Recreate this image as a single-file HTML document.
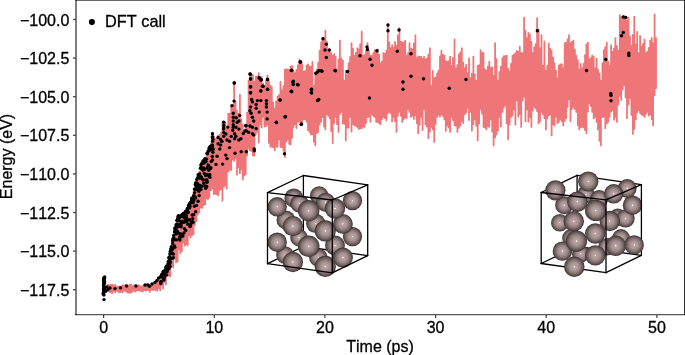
<!DOCTYPE html>
<html><head><meta charset="utf-8"><title>Energy vs time</title>
<style>
html,body{margin:0;padding:0;background:#fff;}
body{width:685px;height:355px;overflow:hidden;}
svg{display:block;will-change:transform;}
text{font-family:"Liberation Sans",Arial,Helvetica,sans-serif;font-size:16px;fill:#000;stroke:#000;stroke-width:0.3px;font-kerning:none;}
</style></head><body>
<svg width="685" height="355" viewBox="0 0 685 355">
<defs>
<radialGradient id="al" cx="50%" cy="50%" r="50%">
<stop offset="0" stop-color="#ffffff"/><stop offset="0.04" stop-color="#fff"/><stop offset="0.09" stop-color="#bba5a5"/>
<stop offset="0.4" stop-color="#a89494"/><stop offset="0.65" stop-color="#877575"/><stop offset="0.85" stop-color="#615252"/><stop offset="1" stop-color="#3a3030"/>
</radialGradient>
</defs>
<rect width="685" height="355" fill="#fff"/>
<path d="M103.6 285.8V291.6M105.0 286.8V291.9M106.5 286.2V291.3M107.9 284.9V291.0M109.4 284.8V291.5M110.8 284.8V292.6M112.3 284.6V292.9M113.8 285.6V290.8M115.2 285.0V292.2M116.6 286.6V290.7M118.1 286.4V291.5M119.5 286.9V292.3M121.0 286.9V291.8M122.4 285.2V292.3M123.9 285.5V290.7M125.3 285.2V290.9M126.8 286.5V291.8M128.2 286.0V292.7M129.7 284.6V292.9M131.2 284.7V292.3M132.6 286.5V291.5M134.0 285.2V290.7M135.5 285.6V291.6M136.9 286.5V290.3M138.4 285.1V290.4M139.8 285.9V290.1M141.3 286.3V291.2M142.8 286.2V291.6M144.2 285.1V290.0M145.6 284.3V290.6M147.1 284.0V290.0M148.5 285.7V290.2M150.0 285.6V291.9M151.4 283.8V289.7M152.9 284.3V289.9M154.3 283.3V289.3M155.8 283.8V290.0M157.2 282.5V290.8M158.7 280.1V288.0M160.1 279.2V290.4M161.6 276.3V285.4M163.0 272.2V288.4M164.5 269.8V282.4M165.9 268.4V284.4M167.4 263.8V275.4M168.8 258.4V275.8M170.3 250.3V276.4M171.8 246.8V265.4M173.2 236.4V267.4M174.6 229.4V258.4M176.1 224.1V262.4M177.6 218.8V261.4M179.0 217.4V249.4M180.4 221.5V253.4M181.9 219.5V251.0M183.3 214.1V242.4M184.8 213.1V245.7M186.2 209.7V244.0M187.7 207.2V245.4M189.1 205.5V235.4M190.6 203.8V237.4M192.1 196.9V235.0M193.5 192.1V234.4M194.9 188.1V225.1M196.4 188.3V221.2M197.8 178.8V214.4M199.3 171.7V212.7M200.8 163.7V207.4M202.2 170.3V207.9M203.6 165.7V205.4M205.1 159.3V204.4M206.6 155.8V198.4M208.0 150.5V199.0M209.4 146.8V197.4M210.9 143.8V190.4M212.3 132.6V188.4M213.8 136.4V194.0M215.2 138.6V193.9M216.7 138.1V194.0M218.1 135.6V195.4M219.6 134.8V190.5M221.1 132.6V189.4M222.5 122.4V200.7M223.9 122.6V186.9M225.4 122.4V185.4M226.8 128.6V188.7M228.3 113.6V171.4M229.8 113.6V169.9M231.2 105.1V169.9M232.6 108.6V159.4M234.1 82.4V160.8M235.5 101.6V158.4M237.0 110.6V174.8M238.4 113.6V167.4M239.9 94.7V173.4M241.3 119.1V169.4M242.8 124.6V179.4M244.2 131.0V175.4M245.7 126.6V174.2M247.1 112.6V155.4M248.6 80.6V148.4M250.0 73.2V150.4M251.5 74.9V150.9M252.9 75.1V155.6M254.4 81.6V155.6M255.8 76.6V134.4M257.3 76.3V131.5M258.8 73.1V142.5M260.2 77.3V124.4M261.6 76.6V127.5M263.1 83.6V116.9M264.5 87.1V126.6M266.0 80.6V126.2M267.4 75.4V124.4M268.9 80.6V142.8M270.4 85.3V146.9M271.8 87.1V146.1M273.2 102.6V147.4M274.7 108.6V150.4M276.1 101.3V146.6M277.6 96.6V146.8M279.0 95.0V139.4M280.5 81.8V146.9M281.9 90.4V147.2M283.4 86.2V150.6M284.9 69.6V156.9M286.3 69.2V141.5M287.8 69.6V139.4M289.2 69.6V143.8M290.6 66.6V144.4M292.1 65.9V137.8M293.5 71.0V126.9M295.0 73.1V124.4M296.4 69.8V128.0M297.9 65.1V121.9M299.4 59.4V121.6M300.8 60.6V124.4M302.2 64.1V123.0M303.7 71.6V119.1M305.1 71.1V119.4M306.6 65.3V121.6M308.0 64.4V130.1M309.5 66.3V131.9M310.9 66.6V134.4M312.4 62.0V134.4M313.9 85.6V141.8M315.3 73.1V145.4M316.8 69.7V133.1M318.2 62.6V131.9M319.6 50.6V124.4M321.1 42.4V121.7M322.5 38.1V116.9M324.0 37.9V126.5M325.4 30.6V129.4M326.9 42.0V114.4M328.4 50.6V115.9M329.8 51.9V118.4M331.2 52.8V131.1M332.7 55.6V143.2M334.1 54.2V123.1M335.6 56.6V116.9M337.0 69.4V124.0M338.5 59.5V131.9M339.9 40.6V114.1M341.4 58.4V111.9M342.9 60.6V123.4M344.3 80.6V123.8M345.8 70.8V140.4M347.2 75.4V127.7M348.6 63.1V127.7M350.1 56.9V116.9M351.5 43.1V131.6M353.0 48.7V123.9M354.4 55.6V125.4M355.9 52.7V125.8M357.4 48.1V126.9M358.8 49.4V129.0M360.2 44.1V128.2M361.7 31.6V128.2M363.1 55.6V126.5M364.6 55.1V126.9M366.0 51.0V123.1M367.5 43.1V117.1M368.9 51.0V116.9M370.4 55.6V121.8M371.9 55.8V114.4M373.3 53.1V115.8M374.8 50.0V116.9M376.2 51.5V121.9M377.6 49.4V121.9M379.1 54.8V123.0M380.5 63.1V124.4M382.0 61.3V119.0M383.4 53.1V116.9M384.9 53.6V118.0M386.4 50.6V120.4M387.8 24.4V113.6M389.2 42.5V111.9M390.7 48.1V113.4M392.1 45.2V121.4M393.6 47.8V116.9M395.0 41.9V121.3M396.5 45.6V131.9M397.9 35.4V115.8M399.4 28.1V111.9M400.9 41.6V115.9M402.3 42.7V121.9M403.8 42.4V119.0M405.2 40.6V117.4M406.6 55.6V118.2M408.1 53.2V109.4M409.5 43.1V111.9M411.0 48.4V116.9M412.4 49.4V115.6M413.9 43.3V119.0M415.4 35.1V115.4M416.8 58.1V123.1M418.2 56.4V133.2M419.7 57.0V124.9M421.1 56.6V116.9M422.6 58.8V130.1M424.0 56.6V109.4M425.5 59.4V124.4M426.9 58.4V126.6M428.4 54.7V138.2M429.9 48.1V131.7M431.3 85.6V126.9M432.8 70.9V129.3M434.2 78.1V141.9M435.6 77.5V123.9M437.1 73.3V116.9M438.5 70.6V114.6M440.0 56.3V116.8M441.4 50.6V114.4M442.9 54.6V115.9M444.4 55.6V119.4M445.8 61.0V130.9M447.2 61.6V125.4M448.7 61.1V127.5M450.1 56.6V131.9M451.6 65.6V116.9M453.0 57.8V120.1M454.5 39.4V125.4M455.9 68.1V125.7M457.4 65.1V131.9M458.9 54.4V127.8M460.3 52.5V125.4M461.8 48.1V121.2M463.2 62.4V123.0M464.6 68.1V114.4M466.1 65.0V112.6M467.5 73.1V108.2M469.0 58.5V120.1M470.4 78.1V111.9M471.9 73.6V130.7M473.4 56.6V124.0M474.8 74.3V119.4M476.2 80.6V125.8M477.7 65.6V140.4M479.1 65.2V123.4M480.6 50.1V109.4M482.0 52.6V113.5M483.5 53.1V126.9M484.9 69.2V127.6M486.4 70.6V129.4M487.9 66.7V126.1M489.3 61.6V126.9M490.8 67.8V119.4M492.2 67.4V131.5M493.6 75.6V145.4M495.1 43.1V137.5M496.5 59.1V134.4M498.0 80.6V130.5M499.4 72.0V116.9M500.9 66.6V126.6M502.4 58.1V111.9M503.8 56.1V107.5M505.2 56.1V105.4M506.7 55.6V123.3M508.1 68.7V139.4M509.6 71.6V124.7M511.0 63.7V116.9M512.5 55.6V115.4M513.9 54.6V109.4M515.4 53.1V124.7M516.9 50.9V100.4M518.3 51.8V116.6M519.8 46.6V114.2M521.2 52.8V126.9M522.6 53.1V100.5M524.1 17.6V96.9M525.5 30.8V121.4M527.0 38.1V109.4M528.4 33.0V121.7M529.9 34.4V117.0M531.4 42.0V126.9M532.8 53.1V110.5M534.2 47.5V106.9M535.7 44.1V108.4M537.1 18.1V111.3M538.6 29.5V123.4M540.0 48.1V121.6M541.5 35.2V111.9M542.9 65.6V114.2M544.4 41.5V118.1M545.9 70.6V129.4M547.3 65.7V118.5M548.8 43.6V115.4M550.2 48.7V114.4M551.6 50.6V135.4M553.1 57.4V124.3M554.5 63.1V125.5M556.0 70.4V116.9M557.4 78.1V123.2M558.9 65.4V121.9M560.4 64.4V119.4M561.8 64.2V121.2M563.2 68.1V125.4M564.7 43.1V120.9M566.1 42.7V118.2M567.6 39.5V107.1M569.0 35.1V99.4M570.5 43.1V121.3M571.9 41.8V109.3M573.4 40.6V106.9M574.9 49.7V108.8M576.3 55.6V111.9M577.8 60.2V125.1M579.2 69.4V129.4M580.6 63.9V127.3M582.1 68.1V126.9M583.5 63.9V127.4M585.0 55.1V130.1M586.4 44.4V133.2M587.9 42.6V111.5M589.4 59.4V103.2M590.8 58.2V106.0M592.2 55.6V111.9M593.7 56.9V118.5M595.1 68.1V116.9M596.6 58.7V122.1M598.0 69.7V129.4M599.5 73.1V140.9M600.9 80.6V145.4M602.4 63.1V116.9M603.9 50.2V116.7M605.3 47.1V128.2M606.8 42.6V123.5M608.2 61.7V121.7M609.6 65.6V116.9M611.1 45.2V111.7M612.5 51.6V110.4M614.0 48.5V119.8M615.4 38.1V116.9M616.9 45.9V121.9M618.4 50.6V104.4M619.8 15.1V95.7M621.2 17.1V100.1M622.7 16.4V89.4M624.1 16.1V85.4M625.6 20.0V97.4M627.0 20.6V118.2M628.5 17.6V104.7M630.0 36.3V98.2M631.4 45.6V114.8M632.9 34.8V133.9M634.3 16.6V128.8M635.8 44.4V119.4M637.2 31.8V112.3M638.6 53.1V110.4M640.1 35.9V113.0M641.5 46.6V114.4M643.0 43.8V115.3M644.5 39.4V116.9M645.9 53.1V113.8M647.4 51.6V111.9M648.8 48.0V115.5M650.2 40.6V114.4M651.7 37.9V119.0M653.1 43.1V125.4M654.6 14.4V95.4M656.0 38.1V88.2" fill="none" stroke="#ee7678" stroke-width="1.8" stroke-linecap="round"/>
<g fill="#000"><circle cx="234.5" cy="83.0" r="1.7"/><circle cx="250.5" cy="74.3" r="1.7"/><circle cx="250.5" cy="78.8" r="1.7"/><circle cx="250.5" cy="87.0" r="1.7"/><circle cx="250.5" cy="92.5" r="1.7"/><circle cx="259.5" cy="78.3" r="1.7"/><circle cx="260.8" cy="80.0" r="1.7"/><circle cx="262.5" cy="86.3" r="1.7"/><circle cx="260.8" cy="90.8" r="1.7"/><circle cx="267.5" cy="79.5" r="1.7"/><circle cx="267.5" cy="89.5" r="1.7"/><circle cx="291.3" cy="70.5" r="1.7"/><circle cx="293.3" cy="81.3" r="1.7"/><circle cx="293.3" cy="84.5" r="1.7"/><circle cx="297.5" cy="84.5" r="1.7"/><circle cx="291.3" cy="91.3" r="1.7"/><circle cx="311.3" cy="89.5" r="1.7"/><circle cx="311.3" cy="92.5" r="1.7"/><circle cx="300.0" cy="62.0" r="1.7"/><circle cx="315.8" cy="73.3" r="1.7"/><circle cx="318.8" cy="70.8" r="1.7"/><circle cx="322.0" cy="71.3" r="1.7"/><circle cx="323.0" cy="38.8" r="1.7"/><circle cx="326.3" cy="44.3" r="1.7"/><circle cx="325.0" cy="50.0" r="1.7"/><circle cx="329.3" cy="50.0" r="1.7"/><circle cx="326.3" cy="57.5" r="1.7"/><circle cx="335.0" cy="70.5" r="1.7"/><circle cx="347.5" cy="71.8" r="1.7"/><circle cx="360.0" cy="55.8" r="1.7"/><circle cx="367.0" cy="47.0" r="1.7"/><circle cx="367.5" cy="49.5" r="1.7"/><circle cx="377.0" cy="50.8" r="1.7"/><circle cx="370.0" cy="59.3" r="1.7"/><circle cx="372.0" cy="65.3" r="1.7"/><circle cx="388.0" cy="25.0" r="1.7"/><circle cx="388.0" cy="30.8" r="1.7"/><circle cx="399.0" cy="30.0" r="1.7"/><circle cx="397.3" cy="51.3" r="1.7"/><circle cx="411.0" cy="53.8" r="1.7"/><circle cx="411.0" cy="76.3" r="1.7"/><circle cx="403.0" cy="82.0" r="1.7"/><circle cx="403.0" cy="89.3" r="1.7"/><circle cx="423.5" cy="78.8" r="1.7"/><circle cx="466.0" cy="79.5" r="1.7"/><circle cx="449.3" cy="88.3" r="1.7"/><circle cx="537.3" cy="30.8" r="1.7"/><circle cx="280.0" cy="100.0" r="1.7"/><circle cx="317.5" cy="100.5" r="1.7"/><circle cx="318.8" cy="99.5" r="1.7"/><circle cx="301.3" cy="124.3" r="1.7"/><circle cx="285.0" cy="117.0" r="1.7"/><circle cx="276.3" cy="122.5" r="1.7"/><circle cx="284.5" cy="153.8" r="1.7"/><circle cx="369.5" cy="98.0" r="1.7"/><circle cx="254.3" cy="150.8" r="1.7"/><circle cx="246.3" cy="151.8" r="1.7"/><circle cx="235.0" cy="153.3" r="1.7"/><circle cx="586.5" cy="70.5" r="1.7"/><circle cx="605.8" cy="59.5" r="1.7"/><circle cx="623.3" cy="17.0" r="1.7"/><circle cx="625.8" cy="17.5" r="1.7"/><circle cx="623.3" cy="32.5" r="1.7"/><circle cx="621.5" cy="35.8" r="1.7"/><circle cx="628.8" cy="53.3" r="1.7"/><circle cx="628.8" cy="55.5" r="1.7"/><circle cx="610.8" cy="93.5" r="1.7"/><circle cx="611.0" cy="95.5" r="1.7"/><circle cx="611.0" cy="100.8" r="1.7"/><circle cx="212.5" cy="133.7" r="1.7"/><circle cx="212.5" cy="137.5" r="1.7"/><circle cx="212.5" cy="141.3" r="1.7"/><circle cx="212.5" cy="145.1" r="1.7"/><circle cx="212.5" cy="147.6" r="1.7"/><circle cx="218.1" cy="137.5" r="1.7"/><circle cx="218.1" cy="143.8" r="1.7"/><circle cx="220.6" cy="145.1" r="1.7"/><circle cx="221.9" cy="141.3" r="1.7"/><circle cx="223.7" cy="122.2" r="1.7"/><circle cx="223.7" cy="125.5" r="1.7"/><circle cx="223.7" cy="128.1" r="1.7"/><circle cx="223.7" cy="132.4" r="1.7"/><circle cx="223.7" cy="136.2" r="1.7"/><circle cx="227.0" cy="140.0" r="1.7"/><circle cx="229.5" cy="141.3" r="1.7"/><circle cx="229.5" cy="147.6" r="1.7"/><circle cx="232.1" cy="105.7" r="1.7"/><circle cx="234.1" cy="82.9" r="1.7"/><circle cx="234.1" cy="101.1" r="1.7"/><circle cx="233.3" cy="113.3" r="1.7"/><circle cx="233.3" cy="117.2" r="1.7"/><circle cx="233.3" cy="121.0" r="1.7"/><circle cx="233.3" cy="124.8" r="1.7"/><circle cx="233.3" cy="127.3" r="1.7"/><circle cx="235.9" cy="127.3" r="1.7"/><circle cx="237.2" cy="122.2" r="1.7"/><circle cx="238.9" cy="121.0" r="1.7"/><circle cx="239.7" cy="115.4" r="1.7"/><circle cx="234.6" cy="133.7" r="1.7"/><circle cx="235.9" cy="136.2" r="1.7"/><circle cx="234.6" cy="138.7" r="1.7"/><circle cx="249.9" cy="74.0" r="1.7"/><circle cx="250.6" cy="79.1" r="1.7"/><circle cx="250.6" cy="86.7" r="1.7"/><circle cx="250.6" cy="93.0" r="1.7"/><circle cx="251.6" cy="99.4" r="1.7"/><circle cx="252.4" cy="101.9" r="1.7"/><circle cx="250.6" cy="107.0" r="1.7"/><circle cx="249.9" cy="110.8" r="1.7"/><circle cx="251.1" cy="113.3" r="1.7"/><circle cx="252.4" cy="117.2" r="1.7"/><circle cx="253.7" cy="121.0" r="1.7"/><circle cx="249.9" cy="126.0" r="1.7"/><circle cx="252.4" cy="127.3" r="1.7"/><circle cx="248.6" cy="132.4" r="1.7"/><circle cx="252.4" cy="133.7" r="1.7"/><circle cx="253.7" cy="134.9" r="1.7"/><circle cx="256.2" cy="128.6" r="1.7"/><circle cx="254.2" cy="148.9" r="1.7"/><circle cx="256.2" cy="104.5" r="1.7"/><circle cx="256.2" cy="108.3" r="1.7"/><circle cx="257.5" cy="100.6" r="1.7"/><circle cx="259.2" cy="77.8" r="1.7"/><circle cx="261.3" cy="79.8" r="1.7"/><circle cx="263.3" cy="86.2" r="1.7"/><circle cx="260.8" cy="91.0" r="1.7"/><circle cx="267.6" cy="79.1" r="1.7"/><circle cx="267.6" cy="89.2" r="1.7"/><circle cx="260.8" cy="100.6" r="1.7"/><circle cx="259.2" cy="112.1" r="1.7"/><circle cx="266.4" cy="100.6" r="1.7"/><circle cx="266.4" cy="103.7" r="1.7"/><circle cx="266.4" cy="107.0" r="1.7"/><circle cx="267.1" cy="112.1" r="1.7"/><circle cx="267.1" cy="118.9" r="1.7"/><circle cx="280.3" cy="100.1" r="1.7"/><circle cx="276.5" cy="122.2" r="1.7"/><circle cx="285.4" cy="116.4" r="1.7"/><circle cx="291.8" cy="70.2" r="1.7"/><circle cx="293.0" cy="82.4" r="1.7"/><circle cx="298.1" cy="84.9" r="1.7"/><circle cx="291.8" cy="91.8" r="1.7"/><circle cx="300.7" cy="62.0" r="1.7"/><circle cx="301.4" cy="124.3" r="1.7"/><circle cx="311.6" cy="89.2" r="1.7"/><circle cx="311.6" cy="93.0" r="1.7"/><circle cx="317.2" cy="72.2" r="1.7"/><circle cx="321.0" cy="70.7" r="1.7"/><circle cx="318.4" cy="100.1" r="1.7"/><circle cx="335.4" cy="70.7" r="1.7"/><circle cx="347.6" cy="71.4" r="1.7"/><circle cx="104.7" cy="277.0" r="1.7"/><circle cx="103.7" cy="277.9" r="1.7"/><circle cx="104.4" cy="278.7" r="1.7"/><circle cx="103.6" cy="279.6" r="1.7"/><circle cx="103.6" cy="280.4" r="1.7"/><circle cx="104.4" cy="281.3" r="1.7"/><circle cx="103.7" cy="282.2" r="1.7"/><circle cx="104.6" cy="283.0" r="1.7"/><circle cx="104.0" cy="283.9" r="1.7"/><circle cx="103.6" cy="284.7" r="1.7"/><circle cx="103.6" cy="285.6" r="1.7"/><circle cx="103.9" cy="286.5" r="1.7"/><circle cx="104.2" cy="287.3" r="1.7"/><circle cx="104.6" cy="288.2" r="1.7"/><circle cx="103.5" cy="289.0" r="1.7"/><circle cx="103.9" cy="289.9" r="1.7"/><circle cx="103.6" cy="290.8" r="1.7"/><circle cx="104.7" cy="291.6" r="1.7"/><circle cx="103.5" cy="292.5" r="1.7"/><circle cx="103.4" cy="293.3" r="1.7"/><circle cx="103.4" cy="294.2" r="1.7"/><circle cx="103.9" cy="295.1" r="1.7"/><circle cx="104.0" cy="299.6" r="1.7"/><circle cx="107.0" cy="287.0" r="1.7"/><circle cx="108.0" cy="289.5" r="1.7"/><circle cx="106.0" cy="291.0" r="1.7"/><circle cx="110.0" cy="288.0" r="1.7"/><circle cx="115.0" cy="288.6" r="1.7"/><circle cx="120.5" cy="287.8" r="1.7"/><circle cx="126.6" cy="286.0" r="1.7"/><circle cx="136.0" cy="286.0" r="1.7"/><circle cx="145.0" cy="285.0" r="1.7"/><circle cx="148.0" cy="285.0" r="1.7"/><circle cx="149.5" cy="286.3" r="1.7"/><circle cx="152.0" cy="284.0" r="1.7"/><circle cx="155.0" cy="282.4" r="1.7"/><circle cx="157.0" cy="280.5" r="1.7"/><circle cx="158.6" cy="278.0" r="1.7"/><circle cx="161.0" cy="276.0" r="1.7"/><circle cx="164.0" cy="280.0" r="1.7"/><circle cx="163.0" cy="272.0" r="1.7"/><circle cx="166.0" cy="270.0" r="1.7"/><circle cx="160.9" cy="281.8" r="1.7"/><circle cx="160.7" cy="283.6" r="1.7"/><circle cx="160.9" cy="277.0" r="1.7"/><circle cx="161.2" cy="281.8" r="1.7"/><circle cx="161.7" cy="274.7" r="1.7"/><circle cx="161.7" cy="276.1" r="1.7"/><circle cx="162.4" cy="274.9" r="1.7"/><circle cx="162.2" cy="274.0" r="1.7"/><circle cx="162.3" cy="275.1" r="1.7"/><circle cx="164.0" cy="271.1" r="1.7"/><circle cx="164.0" cy="271.5" r="1.7"/><circle cx="163.4" cy="278.9" r="1.7"/><circle cx="164.8" cy="271.3" r="1.7"/><circle cx="164.0" cy="273.3" r="1.7"/><circle cx="164.4" cy="277.7" r="1.7"/><circle cx="165.2" cy="270.2" r="1.7"/><circle cx="165.9" cy="267.4" r="1.7"/><circle cx="165.4" cy="274.7" r="1.7"/><circle cx="166.8" cy="265.9" r="1.7"/><circle cx="166.0" cy="267.2" r="1.7"/><circle cx="166.9" cy="266.6" r="1.7"/><circle cx="166.7" cy="275.1" r="1.7"/><circle cx="166.3" cy="267.8" r="1.7"/><circle cx="168.0" cy="265.9" r="1.7"/><circle cx="167.3" cy="270.2" r="1.7"/><circle cx="167.3" cy="265.9" r="1.7"/><circle cx="167.0" cy="271.7" r="1.7"/><circle cx="167.9" cy="266.3" r="1.7"/><circle cx="168.9" cy="257.6" r="1.7"/><circle cx="168.2" cy="263.5" r="1.7"/><circle cx="169.0" cy="268.6" r="1.7"/><circle cx="168.4" cy="261.2" r="1.7"/><circle cx="168.4" cy="263.0" r="1.7"/><circle cx="169.9" cy="253.7" r="1.7"/><circle cx="169.8" cy="262.7" r="1.7"/><circle cx="169.8" cy="263.4" r="1.7"/><circle cx="169.6" cy="256.6" r="1.7"/><circle cx="169.3" cy="258.2" r="1.7"/><circle cx="170.8" cy="249.0" r="1.7"/><circle cx="170.2" cy="261.6" r="1.7"/><circle cx="170.2" cy="251.5" r="1.7"/><circle cx="170.0" cy="258.3" r="1.7"/><circle cx="170.3" cy="266.6" r="1.7"/><circle cx="171.9" cy="258.5" r="1.7"/><circle cx="171.3" cy="246.7" r="1.7"/><circle cx="171.1" cy="252.1" r="1.7"/><circle cx="171.7" cy="248.2" r="1.7"/><circle cx="171.2" cy="250.1" r="1.7"/><circle cx="172.6" cy="249.2" r="1.7"/><circle cx="172.7" cy="253.5" r="1.7"/><circle cx="172.7" cy="240.2" r="1.7"/><circle cx="172.8" cy="241.1" r="1.7"/><circle cx="172.6" cy="243.5" r="1.7"/><circle cx="173.7" cy="235.5" r="1.7"/><circle cx="173.2" cy="238.6" r="1.7"/><circle cx="173.2" cy="254.1" r="1.7"/><circle cx="173.6" cy="238.3" r="1.7"/><circle cx="173.4" cy="257.8" r="1.7"/><circle cx="174.5" cy="231.9" r="1.7"/><circle cx="174.8" cy="239.1" r="1.7"/><circle cx="175.0" cy="228.0" r="1.7"/><circle cx="174.5" cy="246.0" r="1.7"/><circle cx="174.8" cy="247.2" r="1.7"/><circle cx="175.0" cy="230.1" r="1.7"/><circle cx="175.1" cy="228.3" r="1.7"/><circle cx="176.0" cy="233.9" r="1.7"/><circle cx="175.9" cy="228.5" r="1.7"/><circle cx="175.9" cy="230.5" r="1.7"/><circle cx="176.3" cy="239.9" r="1.7"/><circle cx="176.9" cy="220.4" r="1.7"/><circle cx="176.6" cy="233.6" r="1.7"/><circle cx="176.2" cy="227.5" r="1.7"/><circle cx="176.1" cy="224.7" r="1.7"/><circle cx="177.3" cy="231.3" r="1.7"/><circle cx="177.7" cy="219.0" r="1.7"/><circle cx="177.0" cy="223.9" r="1.7"/><circle cx="177.7" cy="218.6" r="1.7"/><circle cx="177.3" cy="220.3" r="1.7"/><circle cx="178.8" cy="225.5" r="1.7"/><circle cx="178.1" cy="216.2" r="1.7"/><circle cx="178.4" cy="226.6" r="1.7"/><circle cx="178.6" cy="215.7" r="1.7"/><circle cx="178.2" cy="233.0" r="1.7"/><circle cx="179.4" cy="217.9" r="1.7"/><circle cx="179.3" cy="238.7" r="1.7"/><circle cx="179.3" cy="224.8" r="1.7"/><circle cx="179.4" cy="220.7" r="1.7"/><circle cx="179.9" cy="240.1" r="1.7"/><circle cx="180.4" cy="216.2" r="1.7"/><circle cx="180.7" cy="216.2" r="1.7"/><circle cx="180.0" cy="236.4" r="1.7"/><circle cx="180.4" cy="233.7" r="1.7"/><circle cx="180.4" cy="236.2" r="1.7"/><circle cx="181.5" cy="215.3" r="1.7"/><circle cx="181.0" cy="224.5" r="1.7"/><circle cx="181.6" cy="236.7" r="1.7"/><circle cx="181.1" cy="226.7" r="1.7"/><circle cx="181.4" cy="222.6" r="1.7"/><circle cx="182.1" cy="216.7" r="1.7"/><circle cx="182.5" cy="235.0" r="1.7"/><circle cx="182.1" cy="221.3" r="1.7"/><circle cx="182.8" cy="235.9" r="1.7"/><circle cx="182.2" cy="214.5" r="1.7"/><circle cx="183.9" cy="233.0" r="1.7"/><circle cx="183.5" cy="213.3" r="1.7"/><circle cx="183.9" cy="217.1" r="1.7"/><circle cx="183.9" cy="222.3" r="1.7"/><circle cx="183.8" cy="213.9" r="1.7"/><circle cx="184.8" cy="214.3" r="1.7"/><circle cx="184.4" cy="228.7" r="1.7"/><circle cx="184.8" cy="213.8" r="1.7"/><circle cx="184.2" cy="217.2" r="1.7"/><circle cx="184.5" cy="216.9" r="1.7"/><circle cx="185.1" cy="214.3" r="1.7"/><circle cx="185.7" cy="230.5" r="1.7"/><circle cx="185.0" cy="220.6" r="1.7"/><circle cx="185.8" cy="211.1" r="1.7"/><circle cx="185.8" cy="211.4" r="1.7"/><circle cx="186.6" cy="218.5" r="1.7"/><circle cx="186.6" cy="212.6" r="1.7"/><circle cx="186.4" cy="219.6" r="1.7"/><circle cx="186.4" cy="221.9" r="1.7"/><circle cx="186.4" cy="215.7" r="1.7"/><circle cx="187.0" cy="220.1" r="1.7"/><circle cx="187.5" cy="209.9" r="1.7"/><circle cx="187.8" cy="224.2" r="1.7"/><circle cx="187.5" cy="209.1" r="1.7"/><circle cx="187.5" cy="208.2" r="1.7"/><circle cx="188.1" cy="212.2" r="1.7"/><circle cx="188.1" cy="212.6" r="1.7"/><circle cx="188.5" cy="205.6" r="1.7"/><circle cx="188.6" cy="205.6" r="1.7"/><circle cx="188.7" cy="219.9" r="1.7"/><circle cx="189.5" cy="203.6" r="1.7"/><circle cx="189.5" cy="207.9" r="1.7"/><circle cx="190.0" cy="203.4" r="1.7"/><circle cx="189.9" cy="226.5" r="1.7"/><circle cx="189.7" cy="219.7" r="1.7"/><circle cx="190.2" cy="226.0" r="1.7"/><circle cx="190.5" cy="225.0" r="1.7"/><circle cx="190.9" cy="201.9" r="1.7"/><circle cx="190.8" cy="224.0" r="1.7"/><circle cx="190.1" cy="206.5" r="1.7"/><circle cx="191.8" cy="198.9" r="1.7"/><circle cx="191.9" cy="200.3" r="1.7"/><circle cx="191.8" cy="198.5" r="1.7"/><circle cx="191.5" cy="222.4" r="1.7"/><circle cx="191.2" cy="202.5" r="1.7"/><circle cx="192.5" cy="199.0" r="1.7"/><circle cx="192.0" cy="198.2" r="1.7"/><circle cx="192.2" cy="221.7" r="1.7"/><circle cx="192.7" cy="218.6" r="1.7"/><circle cx="192.2" cy="215.0" r="1.7"/><circle cx="193.1" cy="202.8" r="1.7"/><circle cx="193.6" cy="195.8" r="1.7"/><circle cx="193.9" cy="200.5" r="1.7"/><circle cx="193.6" cy="214.8" r="1.7"/><circle cx="193.1" cy="222.2" r="1.7"/><circle cx="194.6" cy="192.8" r="1.7"/><circle cx="194.8" cy="189.3" r="1.7"/><circle cx="195.0" cy="196.8" r="1.7"/><circle cx="194.4" cy="206.3" r="1.7"/><circle cx="194.4" cy="189.1" r="1.7"/><circle cx="195.7" cy="182.9" r="1.7"/><circle cx="195.8" cy="185.4" r="1.7"/><circle cx="195.6" cy="211.8" r="1.7"/><circle cx="195.6" cy="198.0" r="1.7"/><circle cx="195.3" cy="184.4" r="1.7"/><circle cx="196.0" cy="182.9" r="1.7"/><circle cx="196.6" cy="187.0" r="1.7"/><circle cx="196.5" cy="205.4" r="1.7"/><circle cx="196.1" cy="183.8" r="1.7"/><circle cx="196.7" cy="179.5" r="1.7"/><circle cx="197.0" cy="183.5" r="1.7"/><circle cx="197.1" cy="183.2" r="1.7"/><circle cx="197.2" cy="189.8" r="1.7"/><circle cx="197.6" cy="178.1" r="1.7"/><circle cx="197.6" cy="184.6" r="1.7"/><circle cx="198.1" cy="201.3" r="1.7"/><circle cx="198.2" cy="174.8" r="1.7"/><circle cx="198.1" cy="188.4" r="1.7"/><circle cx="198.9" cy="191.3" r="1.7"/><circle cx="198.4" cy="176.2" r="1.7"/><circle cx="199.0" cy="185.2" r="1.7"/><circle cx="199.6" cy="173.9" r="1.7"/><circle cx="199.6" cy="176.1" r="1.7"/><circle cx="199.9" cy="185.4" r="1.7"/><circle cx="199.2" cy="195.5" r="1.7"/><circle cx="200.0" cy="177.4" r="1.7"/><circle cx="200.4" cy="168.3" r="1.7"/><circle cx="200.1" cy="186.9" r="1.7"/><circle cx="200.0" cy="178.2" r="1.7"/><circle cx="200.9" cy="164.9" r="1.7"/><circle cx="201.2" cy="176.9" r="1.7"/><circle cx="201.5" cy="177.8" r="1.7"/><circle cx="201.8" cy="164.1" r="1.7"/><circle cx="201.3" cy="167.2" r="1.7"/><circle cx="201.0" cy="189.4" r="1.7"/><circle cx="202.8" cy="179.5" r="1.7"/><circle cx="202.0" cy="186.3" r="1.7"/><circle cx="202.7" cy="170.1" r="1.7"/><circle cx="202.7" cy="169.7" r="1.7"/><circle cx="202.2" cy="162.7" r="1.7"/><circle cx="203.2" cy="160.8" r="1.7"/><circle cx="203.3" cy="179.9" r="1.7"/><circle cx="203.7" cy="183.3" r="1.7"/><circle cx="203.7" cy="163.3" r="1.7"/><circle cx="203.6" cy="167.9" r="1.7"/><circle cx="204.8" cy="169.2" r="1.7"/><circle cx="204.3" cy="173.5" r="1.7"/><circle cx="205.0" cy="160.9" r="1.7"/><circle cx="204.9" cy="158.7" r="1.7"/><circle cx="204.3" cy="162.0" r="1.7"/><circle cx="205.7" cy="188.3" r="1.7"/><circle cx="205.7" cy="161.8" r="1.7"/><circle cx="205.9" cy="161.5" r="1.7"/><circle cx="205.2" cy="185.9" r="1.7"/><circle cx="205.6" cy="175.5" r="1.7"/><circle cx="206.7" cy="186.5" r="1.7"/><circle cx="206.5" cy="179.8" r="1.7"/><circle cx="206.7" cy="179.9" r="1.7"/><circle cx="206.4" cy="174.4" r="1.7"/><circle cx="206.6" cy="159.1" r="1.7"/><circle cx="207.2" cy="167.8" r="1.7"/><circle cx="207.1" cy="181.4" r="1.7"/><circle cx="207.1" cy="153.2" r="1.7"/><circle cx="207.1" cy="182.3" r="1.7"/><circle cx="207.3" cy="153.8" r="1.7"/><circle cx="208.0" cy="151.1" r="1.7"/><circle cx="208.7" cy="165.6" r="1.7"/><circle cx="208.7" cy="170.3" r="1.7"/><circle cx="208.1" cy="164.9" r="1.7"/><circle cx="208.4" cy="174.9" r="1.7"/><circle cx="209.8" cy="174.8" r="1.7"/><circle cx="209.1" cy="176.4" r="1.7"/><circle cx="209.9" cy="177.4" r="1.7"/><circle cx="209.1" cy="150.7" r="1.7"/><circle cx="209.1" cy="148.3" r="1.7"/><circle cx="210.8" cy="167.6" r="1.7"/><circle cx="210.6" cy="168.6" r="1.7"/><circle cx="210.6" cy="148.4" r="1.7"/><circle cx="210.1" cy="146.4" r="1.7"/><circle cx="210.8" cy="146.4" r="1.7"/><circle cx="211.3" cy="149.6" r="1.7"/><circle cx="211.0" cy="146.7" r="1.7"/><circle cx="211.3" cy="161.5" r="1.7"/><circle cx="211.4" cy="146.2" r="1.7"/><circle cx="212.0" cy="149.0" r="1.7"/><circle cx="212.9" cy="152.3" r="1.7"/><circle cx="212.0" cy="145.2" r="1.7"/><circle cx="212.4" cy="159.9" r="1.7"/><circle cx="212.3" cy="156.5" r="1.7"/><circle cx="212.5" cy="136.6" r="1.7"/><circle cx="244.9" cy="131.0" r="1.7"/><circle cx="243.3" cy="133.5" r="1.7"/><circle cx="213.0" cy="139.6" r="1.7"/><circle cx="241.2" cy="151.7" r="1.7"/><circle cx="213.2" cy="149.3" r="1.7"/><circle cx="231.2" cy="136.5" r="1.7"/><circle cx="219.8" cy="149.0" r="1.7"/><circle cx="225.8" cy="155.1" r="1.7"/><circle cx="222.6" cy="164.1" r="1.7"/><circle cx="223.5" cy="129.1" r="1.7"/><circle cx="238.9" cy="129.1" r="1.7"/><circle cx="217.1" cy="156.2" r="1.7"/><circle cx="216.0" cy="164.4" r="1.7"/><circle cx="238.8" cy="140.0" r="1.7"/><circle cx="236.2" cy="117.8" r="1.7"/><circle cx="227.8" cy="127.1" r="1.7"/><circle cx="245.9" cy="125.7" r="1.7"/><circle cx="245.9" cy="125.5" r="1.7"/><circle cx="220.6" cy="139.4" r="1.7"/><circle cx="246.3" cy="130.9" r="1.7"/><circle cx="227.0" cy="158.6" r="1.7"/><circle cx="221.6" cy="141.6" r="1.7"/><circle cx="232.7" cy="130.2" r="1.7"/><circle cx="240.9" cy="138.7" r="1.7"/><circle cx="225.9" cy="134.0" r="1.7"/></g>
<g stroke="#000" stroke-width="1.3" fill="none" stroke-linecap="round"><line x1="303.4" y1="246.5" x2="303.4" y2="175.5"/><line x1="303.4" y1="246.5" x2="367.7" y2="255.6"/><line x1="303.4" y1="246.5" x2="267.5" y2="263.7"/></g><circle cx="293.8" cy="198.0" r="9.4" fill="url(#al)"/><circle cx="319.2" cy="195.4" r="9.2" fill="url(#al)"/><circle cx="299.0" cy="237.6" r="8.8" fill="url(#al)"/><circle cx="285.0" cy="255.0" r="8.8" fill="url(#al)"/><circle cx="318.3" cy="257.6" r="9.2" fill="url(#al)"/><circle cx="299.5" cy="203.6" r="9.2" fill="url(#al)"/><circle cx="352.5" cy="200.6" r="9.6" fill="url(#al)"/><circle cx="325.6" cy="202.2" r="9.5" fill="url(#al)"/><circle cx="352.5" cy="236.6" r="9.6" fill="url(#al)"/><circle cx="342.9" cy="223.9" r="9.9" fill="url(#al)"/><circle cx="285.9" cy="219.9" r="9.4" fill="url(#al)"/><circle cx="315.7" cy="223.4" r="9.6" fill="url(#al)"/><circle cx="277.2" cy="206.8" r="9.7" fill="url(#al)"/><circle cx="277.2" cy="242.2" r="9.7" fill="url(#al)"/><circle cx="292.9" cy="226.1" r="10.2" fill="url(#al)"/><circle cx="335.0" cy="208.5" r="10.2" fill="url(#al)"/><circle cx="335.0" cy="245.4" r="9.9" fill="url(#al)"/><circle cx="342.9" cy="257.6" r="10.0" fill="url(#al)"/><circle cx="308.7" cy="210.8" r="10.7" fill="url(#al)"/><circle cx="325.3" cy="230.9" r="10.6" fill="url(#al)"/><circle cx="308.7" cy="246.3" r="10.8" fill="url(#al)"/><circle cx="292.9" cy="262.0" r="10.2" fill="url(#al)"/><circle cx="325.3" cy="266.4" r="10.6" fill="url(#al)"/><g stroke="#000" stroke-width="1.3" fill="none" stroke-linecap="round"><line x1="267.5" y1="192.7" x2="303.4" y2="175.5"/><line x1="303.4" y1="175.5" x2="367.7" y2="184.8"/><line x1="367.7" y1="184.8" x2="367.7" y2="255.6"/></g><g stroke="#000" stroke-width="1.3" fill="none" stroke-linecap="round"><line x1="267.5" y1="192.7" x2="332.3" y2="200.0"/><line x1="332.3" y1="200.0" x2="332.3" y2="272.8"/><line x1="332.3" y1="272.8" x2="267.5" y2="263.7"/><line x1="267.5" y1="263.7" x2="267.5" y2="192.7"/><line x1="367.7" y1="184.8" x2="332.3" y2="200.0"/><line x1="367.7" y1="255.6" x2="332.3" y2="272.8"/></g><g stroke="#000" stroke-width="1.3" fill="none" stroke-linecap="round"><line x1="577.1" y1="246.3" x2="577.1" y2="175.3"/><line x1="577.1" y1="246.3" x2="641.4" y2="255.4"/><line x1="577.1" y1="246.3" x2="541.2" y2="263.5"/></g><circle cx="586.0" cy="194.4" r="8.8" fill="url(#al)"/><circle cx="599.2" cy="199.1" r="9.0" fill="url(#al)"/><circle cx="564.2" cy="205.2" r="9.0" fill="url(#al)"/><circle cx="559.8" cy="222.7" r="8.8" fill="url(#al)"/><circle cx="617.6" cy="217.4" r="8.8" fill="url(#al)"/><circle cx="571.0" cy="237.9" r="8.8" fill="url(#al)"/><circle cx="621.0" cy="237.9" r="8.8" fill="url(#al)"/><circle cx="580.8" cy="253.7" r="8.8" fill="url(#al)"/><circle cx="607.0" cy="246.7" r="8.8" fill="url(#al)"/><circle cx="625.5" cy="218.4" r="9.2" fill="url(#al)"/><circle cx="632.5" cy="205.2" r="9.7" fill="url(#al)"/><circle cx="577.3" cy="201.7" r="10.2" fill="url(#al)"/><circle cx="573.8" cy="221.2" r="10.2" fill="url(#al)"/><circle cx="609.7" cy="221.0" r="10.2" fill="url(#al)"/><circle cx="595.7" cy="210.4" r="10.7" fill="url(#al)"/><circle cx="595.3" cy="233.5" r="10.2" fill="url(#al)"/><circle cx="562.4" cy="251.1" r="9.7" fill="url(#al)"/><circle cx="615.8" cy="245.8" r="10.2" fill="url(#al)"/><circle cx="576.4" cy="241.1" r="10.7" fill="url(#al)"/><circle cx="595.3" cy="255.4" r="10.2" fill="url(#al)"/><g stroke="#000" stroke-width="1.3" fill="none" stroke-linecap="round"><line x1="541.2" y1="192.5" x2="577.1" y2="175.3"/><line x1="577.1" y1="175.3" x2="641.4" y2="184.6"/><line x1="641.4" y1="184.6" x2="641.4" y2="255.4"/></g><circle cx="627.2" cy="188.5" r="9.4" fill="url(#al)"/><circle cx="588.3" cy="181.5" r="10.1" fill="url(#al)"/><circle cx="613.7" cy="193.8" r="9.7" fill="url(#al)"/><circle cx="555.4" cy="190.3" r="10.1" fill="url(#al)"/><g stroke="#000" stroke-width="1.3" fill="none" stroke-linecap="round"><line x1="541.2" y1="192.5" x2="606.0" y2="199.8"/><line x1="606.0" y1="199.8" x2="606.0" y2="272.6"/><line x1="606.0" y1="272.6" x2="541.2" y2="263.5"/><line x1="541.2" y1="263.5" x2="541.2" y2="192.5"/><line x1="641.4" y1="184.6" x2="606.0" y2="199.8"/><line x1="641.4" y1="255.4" x2="606.0" y2="272.6"/></g><circle cx="634.2" cy="244.9" r="9.7" fill="url(#al)"/><circle cx="574.3" cy="266.8" r="10.2" fill="url(#al)"/>
<g stroke="#000" fill="none"><line x1="76" y1="0" x2="76" y2="315" stroke-width="2" stroke-opacity="0.5"/><line x1="75" y1="314.5" x2="685" y2="314.5" stroke-width="1.25" stroke-opacity="0.66"/><line x1="684.5" y1="0" x2="684.5" y2="315" stroke-width="1" stroke-opacity="0.8"/><line x1="75.5" y1="0.3" x2="685" y2="0.3" stroke-width="1" stroke-opacity="0.75"/></g>
<g stroke="#3a3a3a" stroke-width="1.2"><line x1="73" y1="19.5" x2="76" y2="19.5"/><line x1="73" y1="58.1" x2="76" y2="58.1"/><line x1="73" y1="96.7" x2="76" y2="96.7"/><line x1="73" y1="135.3" x2="76" y2="135.3"/><line x1="73" y1="173.9" x2="76" y2="173.9"/><line x1="73" y1="212.5" x2="76" y2="212.5"/><line x1="73" y1="251.1" x2="76" y2="251.1"/><line x1="73" y1="289.7" x2="76" y2="289.7"/><line x1="103.6" y1="315" x2="103.6" y2="318"/><line x1="214.3" y1="315" x2="214.3" y2="318"/><line x1="324.9" y1="315" x2="324.9" y2="318"/><line x1="435.6" y1="315" x2="435.6" y2="318"/><line x1="546.2" y1="315" x2="546.2" y2="318"/><line x1="656.9" y1="315" x2="656.9" y2="318"/></g>
<g><text x="69.3" y="25.5" text-anchor="end">−100.0</text><text x="69.3" y="64.1" text-anchor="end">−102.5</text><text x="69.3" y="102.7" text-anchor="end">−105.0</text><text x="69.3" y="141.3" text-anchor="end">−107.5</text><text x="69.3" y="179.9" text-anchor="end">−110.0</text><text x="69.3" y="218.5" text-anchor="end">−112.5</text><text x="69.3" y="257.1" text-anchor="end">−115.0</text><text x="69.3" y="295.7" text-anchor="end">−117.5</text><text x="103.6" y="332.8" text-anchor="middle">0</text><text x="214.3" y="332.8" text-anchor="middle">10</text><text x="324.9" y="332.8" text-anchor="middle">20</text><text x="435.6" y="332.8" text-anchor="middle">30</text><text x="546.2" y="332.8" text-anchor="middle">40</text><text x="656.9" y="332.8" text-anchor="middle">50</text></g>
<circle cx="91.9" cy="22.1" r="3.05" fill="#000"/>
<text x="105.1" y="26.9" style="font-size:16.3px">DFT call</text>
<text x="380" y="351.6" text-anchor="middle">Time (ps)</text>
<text transform="translate(11.8,156.5) rotate(-90)" text-anchor="middle">Energy (eV)</text>
</svg>
</body></html>
